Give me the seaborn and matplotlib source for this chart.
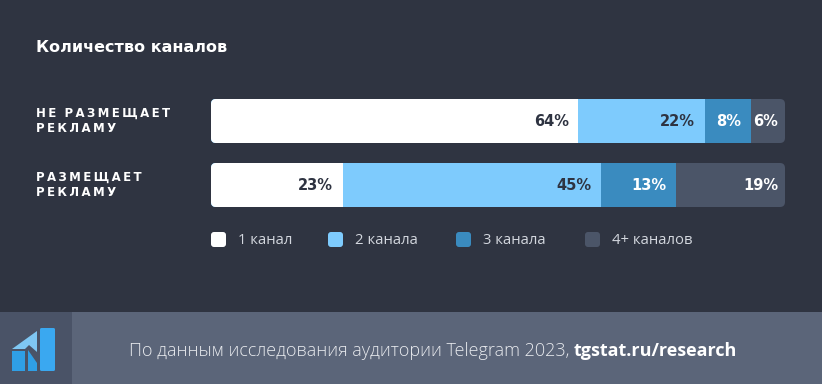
import numpy as np
import pandas as pd
import seaborn as sns
import matplotlib
matplotlib.use("Agg")
import matplotlib.pyplot as plt
from matplotlib.patches import FancyBboxPatch, Rectangle, Polygon

# ---------------- data ----------------
categories = ["НЕ РАЗМЕЩАЕТ\nРЕКЛАМУ", "РАЗМЕЩАЕТ\nРЕКЛАМУ"]
series_names = ["1 канал", "2 канала", "3 канала", "4+ каналов"]
one_channel = [64, 23]
two_channels = [22, 45]
three_channels = [8, 13]
four_plus = [6, 19]
title = "Количество каналов"
footer_text = "По данным исследования аудитории Telegram 2023, "
footer_link = "tgstat.ru/research"

series_values = [one_channel, two_channels, three_channels, four_plus]
colors = ["#ffffff", "#7ecbfd", "#3a8bbf", "#4b5568"]
label_colors = ["#2e3341", "#2e3341", "#ffffff", "#ffffff"]
label_pads = [-7, -7, -6.5, -5]

BG = "#2f3441"
W, H = 822, 384

sns.set_theme(style="white")
plt.rcParams["font.family"] = ["Open Sans", "DejaVu Sans"]

fig = plt.figure(figsize=(W / 100, H / 100), dpi=100)
fig.patch.set_facecolor(BG)

# background / decoration axes in pixel coordinates
bg = fig.add_axes([0, 0, 1, 1], zorder=-1)
bg.set_xlim(0, W)
bg.set_ylim(H, 0)
bg.axis("off")

# footer band
bg.add_patch(Rectangle((0, 312), W, 72, color="#5b6579", lw=0))
bg.add_patch(Rectangle((0, 312), 72, 72, color="#4a5367", lw=0))
# logo
bg.add_patch(FancyBboxPatch((40, 328), 15, 43, boxstyle="round,pad=0,rounding_size=1.5",
                            color="#3aa8f0", lw=0))
bg.add_patch(Polygon([(12, 349), (37, 331), (37, 352), (29, 345), (25, 349)],
                     closed=True, color="#7fc7f3", lw=0))
bg.add_patch(Rectangle((12, 351), 13, 20, color="#2f9fe6", lw=0))
bg.add_patch(Polygon([(28, 350), (37, 363), (37, 371), (28, 371)],
                     closed=True, color="#2f9fe6", lw=0))

# title
bg.text(36, 48, title, color="white", fontsize=11.5, fontweight="bold",
        va="center", ha="left", family="DejaVu Sans")


def spaced(s):
    return "\n".join("\u2009".join(list(line)).replace("\u2009 \u2009", "  ")
                     for line in s.split("\n"))


cat_y = [121, 185]
for cy, cat in zip(cat_y, categories):
    bg.text(36, cy, spaced(cat), color="white", fontsize=8.5, fontweight="bold",
            va="center", ha="left", linespacing=1.3, family="DejaVu Sans")

# legend
leg_sq_x = [211, 328, 456, 585]
for lx, name, c in zip(leg_sq_x, series_names, colors):
    bg.add_patch(FancyBboxPatch((lx, 232), 15, 15, boxstyle="round,pad=0,rounding_size=3",
                                color=c, lw=0))
    bg.text(lx + 27, 240, name, color="#d3d7de", fontsize=10.7, va="center", ha="left")

# footer text
t1 = bg.text(129, 351, footer_text, color="#e8eaee", fontsize=13, va="center",
             ha="left", fontweight="light")
bg.annotate(footer_link, xy=(1, 0), xycoords=t1, va="bottom", ha="left",
            color="white", fontsize=13, fontweight="bold")

# ---------------- main chart ----------------
ax = fig.add_axes([211 / W, (H - 217) / H, 574 / W, 128 / H], zorder=1)
ax.set_facecolor("none")

cum = np.cumsum(np.array(series_values), axis=0)  # shape (4, 2)
bar_w = 44 / 64
for i in reversed(range(len(series_names))):
    df = pd.DataFrame({"cat": categories, "val": cum[i]})
    sns.barplot(data=df, x="val", y="cat", orient="h", color=colors[i],
                saturation=1, width=bar_w, linewidth=0, ax=ax, order=categories)

ax.set_xlim(0, 100)
ax.set_ylim(1.5, -0.5)
ax.axis("off")

# rounded clip per row
x_per_px = 100 / 574
y_per_px = 1 / 64
for p in ax.patches:
    yc = p.get_y() + p.get_height() / 2
    row = int(round(yc))
    total = cum[-1][row]
    rr = FancyBboxPatch((0, yc - bar_w / 2), total, bar_w,
                        boxstyle=f"round,pad=0,rounding_size={5 * x_per_px}",
                        mutation_aspect=y_per_px / x_per_px,
                        transform=ax.transData, facecolor="none", lw=0)
    p.set_clip_path(rr)

# value labels
for i in range(len(series_names)):
    for row in range(len(categories)):
        v = series_values[i][row]
        ax.annotate(f"{v}%", xy=(cum[i][row], row), xytext=(label_pads[i], 0),
                    textcoords="offset points", ha="right", va="center",
                    color=label_colors[i], fontsize=10.5, fontweight="bold",
                    family="DejaVu Sans")

fig.savefig("out.png", dpi=100, facecolor=BG)
